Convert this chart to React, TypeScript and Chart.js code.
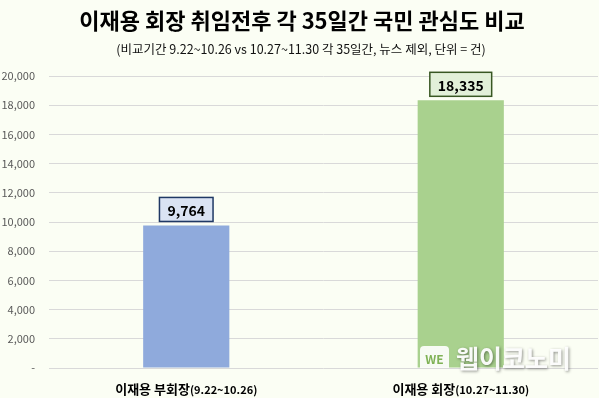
import React, { useEffect, useRef } from "react";
import { Chart, registerables } from "chart.js";

Chart.register(...registerables);

const titleText = "이재용 회장 취임전후 각 35일간 국민 관심도 비교";
const subtitleText = "(비교기간 9.22~10.26 vs 10.27~11.30 각 35일간, 뉴스 제외, 단위 = 건)";
const categoryNames = ["이재용 부회장", "이재용 회장"];
const categoryPeriods = ["(9.22~10.26)", "(10.27~11.30)"];
const values = [9764, 18335];
const barColors = ["#8FAADC", "#A9D18E"];
const labelFills = ["#DAE3F3", "#E2F0D9"];
const labelBorders = ["#1F3864", "#385723"];
const yMax = 20000;
const yStep = 2000;

const FONT = "'Noto Sans CJK KR', 'Noto Sans', sans-serif";
const BG = "#FBFEF4";

const decorPlugin = {
  id: "decor",
  beforeDraw(chart: any) {
    const ctx = chart.ctx;
    ctx.save();
    ctx.fillStyle = BG;
    ctx.fillRect(0, 0, chart.width, chart.height);
    ctx.restore();
  },
  afterDraw(chart: any) {
    const ctx = chart.ctx;
    const xScale = chart.scales.x;
    ctx.save();
    // titles
    ctx.textAlign = "center";
    ctx.textBaseline = "middle";
    ctx.fillStyle = "#000";
    ctx.font = `bold 22px ${FONT}`;
    ctx.fillText(titleText, 302, 21);
    ctx.font = `12.5px ${FONT}`;
    ctx.fillStyle = "#111";
    ctx.fillText(subtitleText, 301, 49);

    // value labels
    const meta = chart.getDatasetMeta(0);
    meta.data.forEach((bar: any, i: number) => {
      const txt = values[i].toLocaleString("en-US");
      ctx.font = `bold 14px ${FONT}`;
      const w = ctx.measureText(txt).width + 16;
      const h = 24;
      const x = bar.x - w / 2;
      const y = bar.y - 4 - h;
      ctx.fillStyle = labelFills[i];
      ctx.fillRect(x, y, w, h);
      ctx.strokeStyle = labelBorders[i];
      ctx.lineWidth = 1.5;
      ctx.strokeRect(x, y, w, h);
      ctx.fillStyle = "#000";
      ctx.textAlign = "center";
      ctx.textBaseline = "middle";
      ctx.fillText(txt, bar.x, y + h / 2 + 1);
    });

    // x labels (mixed font sizes)
    categoryNames.forEach((name, i) => {
      const cx = xScale.getPixelForValue(i);
      const f1 = `bold 13px ${FONT}`;
      const f2 = `bold 11px ${FONT}`;
      ctx.font = f1;
      const w1 = ctx.measureText(name).width;
      ctx.font = f2;
      const w2 = ctx.measureText(categoryPeriods[i]).width;
      const start = cx - (w1 + w2) / 2;
      ctx.textAlign = "left";
      ctx.textBaseline = "alphabetic";
      ctx.fillStyle = "#000";
      ctx.font = f1;
      ctx.fillText(name, start, 394);
      ctx.font = f2;
      ctx.fillText(categoryPeriods[i], start + w1, 394);
    });

    // watermark
    ctx.globalAlpha = 0.9;
    ctx.fillStyle = "#FFFFFF";
    const bx = 420, by = 346, bw = 29, bh = 22, r = 4;
    ctx.beginPath();
    ctx.moveTo(bx + r, by);
    ctx.lineTo(bx + bw - r, by);
    ctx.quadraticCurveTo(bx + bw, by, bx + bw, by + r);
    ctx.lineTo(bx + bw, by + bh);
    ctx.lineTo(bx, by + bh);
    ctx.lineTo(bx, by + r);
    ctx.quadraticCurveTo(bx, by, bx + r, by);
    ctx.fill();
    ctx.globalAlpha = 1;
    ctx.fillStyle = "#7FB255";
    ctx.font = `bold 12px ${FONT}`;
    ctx.textAlign = "center";
    ctx.textBaseline = "middle";
    ctx.fillText("WE", bx + bw / 2, by + bh / 2 + 2);
    ctx.globalAlpha = 0.95;
    ctx.shadowColor = "rgba(0,0,0,0.45)";
    ctx.shadowBlur = 3;
    ctx.shadowOffsetX = 1;
    ctx.shadowOffsetY = 1;
    ctx.fillStyle = "#FFFFFF";
    ctx.font = `bold 25px ${FONT}`;
    ctx.textAlign = "left";
    ctx.fillText("웹이코노미", 456, 358);
    ctx.restore();
  },
};

export default function App() {
  const ref = useRef<HTMLCanvasElement>(null);
  useEffect(() => {
    if (!ref.current) return;
    const chart = new Chart(ref.current, {
      type: "bar",
      data: {
        labels: categoryNames.map((n, i) => n + categoryPeriods[i]),
        datasets: [
          {
            data: values,
            backgroundColor: barColors,
            borderWidth: 0,
            categoryPercentage: 1,
            barPercentage: 0.314,
          },
        ],
      },
      options: {
        responsive: false,
        animation: false,
        layout: { padding: { top: 76, bottom: 22, left: 0, right: 1 } },
        plugins: {
          legend: { display: false },
          title: { display: false },
          tooltip: { enabled: false },
        },
        scales: {
          x: {
            ticks: { display: false },
            grid: { display: false },
            border: { display: false },
          },
          y: {
            min: 0,
            max: yMax,
            afterFit(scale: any) {
              scale.width = 49;
            },
            ticks: {
              stepSize: yStep,
              padding: 14,
              color: "#595959",
              font: { family: FONT, size: 11 },
              callback: (v: any) => (Number(v) === 0 ? "-" : Number(v).toLocaleString("en-US")),
            },
            grid: { color: "#D9D9D9", drawTicks: false, lineWidth: 1 },
            border: { display: false },
          },
        },
      },
      plugins: [decorPlugin],
    });
    return () => chart.destroy();
  }, []);
  return (
    <div style={{ position: "fixed", left: 0, top: 0, width: 599, height: 398, background: BG }}>
      <canvas ref={ref} width={599} height={398} style={{ display: "block" }} />
    </div>
  );
}
